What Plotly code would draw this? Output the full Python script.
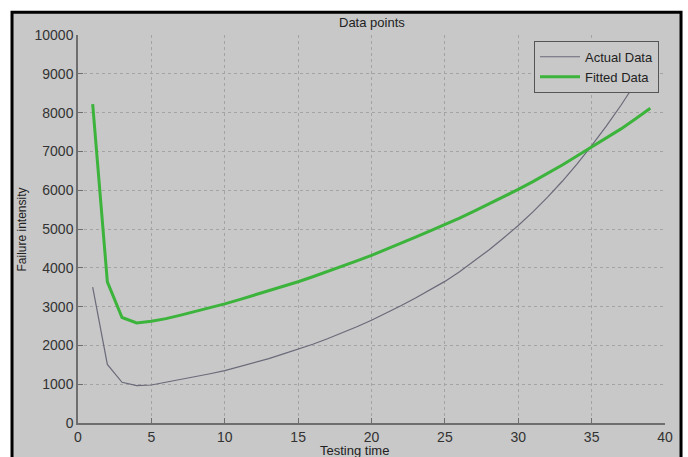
import plotly.graph_objects as go

# Testing time (x) and failure intensity readings
testing_time = list(range(1, 40))

actual_data = [
    3500, 1510, 1050, 965, 980, 1050, 1120, 1190, 1270, 1350,
    1450, 1550, 1660, 1780, 1900, 2030, 2170, 2320, 2480, 2650,
    2830, 3020, 3220, 3430, 3650, 3900, 4170, 4460, 4770, 5090,
    5440, 5820, 6230, 6670, 7150, 7650, 8190, 8770, 9400,
]

fitted_data = [
    8220, 3640, 2720, 2580, 2620, 2690, 2780, 2870, 2970, 3070,
    3180, 3290, 3400, 3520, 3640, 3770, 3900, 4040, 4180, 4320,
    4470, 4630, 4790, 4950, 5110, 5280, 5460, 5640, 5830, 6020,
    6220, 6430, 6650, 6880, 7110, 7340, 7580, 7840, 8110,
]

x_ticks = [0, 5, 10, 15, 20, 25, 30, 35, 40]
y_ticks = [0, 1000, 2000, 3000, 4000, 5000, 6000, 7000, 8000, 9000, 10000]

BG = "#c8c8c8"
FONT = "Liberation Sans, Arial, sans-serif"

fig = go.Figure()
fig.add_trace(go.Scatter(
    x=testing_time, y=actual_data, mode="lines", name="Actual Data",
    line=dict(color="#6a6a7a", width=1.2),
))
fig.add_trace(go.Scatter(
    x=testing_time, y=fitted_data, mode="lines", name="Fitted Data",
    line=dict(color="#3cb43c", width=3),
))

axis_common = dict(
    showgrid=True, gridcolor="#a4a4a4", griddash="dot", gridwidth=1,
    zeroline=False, showline=True, linecolor="#6e6e6e", linewidth=1.5,
    ticks="inside", ticklen=5, tickcolor="#6e6e6e",
    tickfont=dict(family=FONT, size=14, color="#333333"),
)

fig.update_xaxes(range=[0, 40], tickvals=x_ticks,
                 ticktext=[str(v) for v in x_ticks], **axis_common)
fig.update_yaxes(range=[0, 10000], tickvals=y_ticks,
                 ticktext=[str(v) for v in y_ticks], **axis_common)

# Figure frame: grey panel with a black border
fig.add_shape(
    type="rect", xref="paper", yref="paper",
    x0=-0.1124, x1=1.0273, y0=-0.12, y1=1.0585,
    fillcolor=BG, line=dict(color="black", width=3), layer="below",
)

fig.update_layout(
    width=688, height=457,
    margin=dict(l=78, r=23, t=35, b=29),
    paper_bgcolor="white", plot_bgcolor=BG,
    showlegend=True,
    legend=dict(
        x=0.9898, y=0.985, xanchor="right", yanchor="top",
        bgcolor=BG, bordercolor="#555555", borderwidth=1,
        font=dict(family=FONT, size=13, color="#222222"),
        tracegroupgap=0, itemwidth=40,
    ),
    annotations=[
        dict(text="Data points", xref="paper", yref="paper",
             x=0.5, y=(428 - 22) / 393, xanchor="center", yanchor="middle",
             showarrow=False, font=dict(family=FONT, size=13, color="#222222")),
        dict(text="Testing time", xref="paper", yref="paper",
             x=(354 - 78) / 587, y=(428 - 456) / 393, xanchor="center", yanchor="middle",
             showarrow=False, font=dict(family=FONT, size=13, color="#222222")),
        dict(text="Failure intensity", xref="paper", yref="paper",
             x=(22 - 78) / 587, y=(428 - 232) / 393, xanchor="center", yanchor="middle",
             textangle=-90, showarrow=False,
             font=dict(family=FONT, size=12, color="#222222")),
    ],
)

fig.write_html("out.html")
